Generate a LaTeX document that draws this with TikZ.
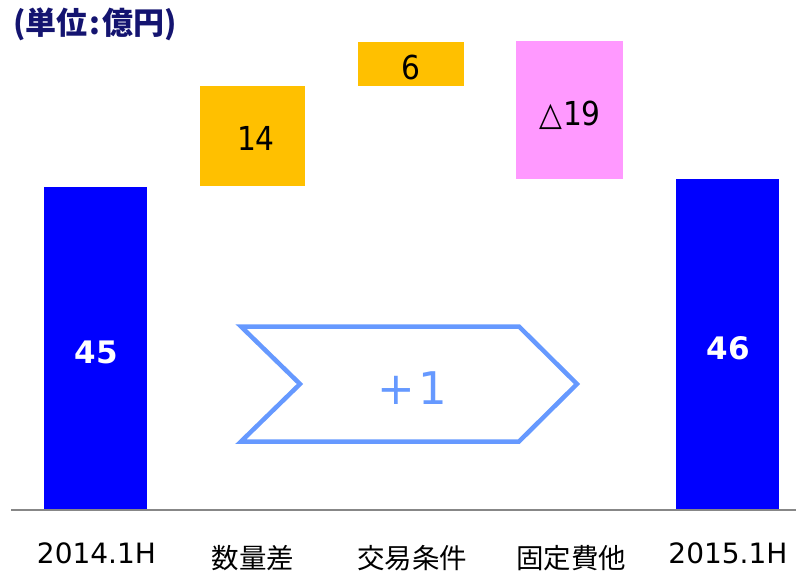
\documentclass[tikz,border=0pt]{standalone}
\usepackage{fontspec}
\setmainfont{DejaVu Sans}
\newfontfamily\narrowfont[FakeStretch=0.9]{DejaVu Sans}
\newfontfamily\jp{Noto Sans CJK JP}
\definecolor{barblue}{HTML}{0000FF}
\definecolor{bargold}{HTML}{FFC000}
\definecolor{barpink}{HTML}{FF99FF}
\definecolor{chev}{HTML}{6699FF}
\definecolor{navy}{HTML}{141470}
\definecolor{axisgray}{HTML}{878787}
\tikzset{
  bar/.style={draw=none, inner sep=0pt, anchor=north west},
  val/.style={font=\narrowfont\fontsize{33}{35}\selectfont, text=black, inner sep=0pt},
  bval/.style={font=\fontsize{31}{33}\selectfont\bfseries, text=white, inner sep=0pt},
  cat/.style={font=\fontsize{28}{30}\selectfont, text=black, inner sep=0pt},
  jcat/.style={font=\jp\fontsize{27.5}{29}\selectfont, text=black, inner sep=0pt},
}
\begin{document}
\begin{tikzpicture}[x=1pt,y=-1pt]
\useasboundingbox (0,0) rectangle (796,574);
% title
\node[anchor=west, inner sep=0pt, text=navy, font=\jp\bfseries\fontsize{31}{33}\selectfont] (title) at (13,24) {(単位\kern2pt:\kern2pt億円)};
% bars
\node[bar, fill=barblue, minimum width=103pt, minimum height=322pt] (b1) at (44,187) {};
\node[bar, fill=bargold, minimum width=105pt, minimum height=100pt] (b2) at (200,86) {};
\node[bar, fill=bargold, minimum width=106pt, minimum height=44pt] (b3) at (358,42) {};
\node[bar, fill=barpink, minimum width=107pt, minimum height=138pt] (b4) at (516,41) {};
\node[bar, fill=barblue, minimum width=103pt, minimum height=330pt] (b5) at (676,179) {};
% values
\node[bval] (v1) at (96.5,352) {45};
\node[val] (v2) at (256,138) {14};
\node[val] (v3) at (411,67) {6};
\node[val] (v4) at (570,115) {△\kern1pt19};
\node[bval] (v5) at (728,348) {46};
% baseline
\coordinate (axl) at (11,509.5);
\coordinate (axr) at (796,509.5);
\draw[axisgray, line width=2pt] (axl) -- (axr);
% chevron
\coordinate (c1) at (241,326.5);
\coordinate (c2) at (519,326.5);
\coordinate (c3) at (577,384);
\coordinate (c4) at (519,441.5);
\coordinate (c5) at (241,441.5);
\coordinate (c6) at (300,384);
\draw[chev, line width=4.5pt, line join=miter] (c1) -- (c2) -- (c3) -- (c4) -- (c5) -- (c6) -- cycle;
\node[inner sep=0pt, text=chev, font=\fontsize{45}{47}\selectfont] (delta) at (412,388) {+\kern3pt1};
% categories
\node[cat] (k1) at (96.5,553) {2014.1H};
\node[jcat] (k2) at (253,558) {数量差};
\node[jcat] (k3) at (412,558) {交易条件};
\node[jcat] (k4) at (571,558) {固定費他};
\node[cat] (k5) at (728,553) {2015.1H};
\end{tikzpicture}
\end{document}
